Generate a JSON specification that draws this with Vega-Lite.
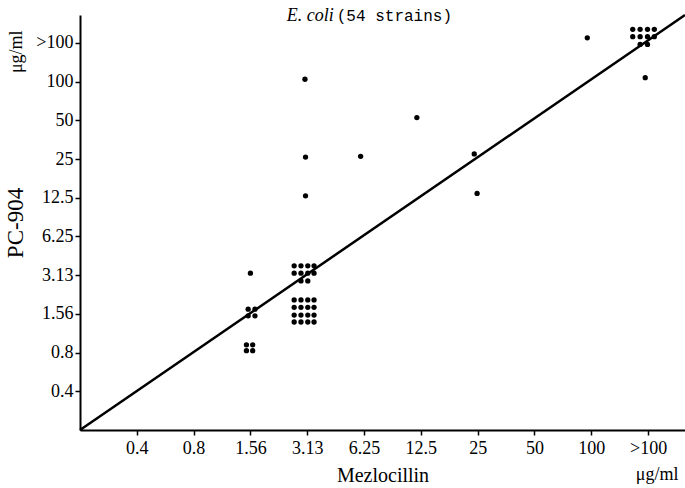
{
  "$schema": "https://vega.github.io/schema/vega-lite/v6.json",
  "width": 605,
  "height": 415,
  "autosize": {"type": "none"},
  "padding": {"left": 80, "top": 15, "right": 0, "bottom": 58},
  "background": "white",
  "config": {"view": {"stroke": null}, "font": "Liberation Serif"},
  "datasets": {
    "strains": [
      {"mez": 3.00, "pc": 4.05},
      {"mez": 2.96, "pc": 3.12}, {"mez": 3.08, "pc": 3.12}, {"mez": 2.96, "pc": 2.95}, {"mez": 3.08, "pc": 2.95},
      {"mez": 2.93, "pc": 2.20}, {"mez": 3.04, "pc": 2.20}, {"mez": 2.93, "pc": 2.05}, {"mez": 3.04, "pc": 2.05},
      {"mez": 3.77, "pc": 4.24}, {"mez": 3.89, "pc": 4.24}, {"mez": 4.01, "pc": 4.24}, {"mez": 4.12, "pc": 4.24},
      {"mez": 3.77, "pc": 4.05}, {"mez": 3.89, "pc": 4.05}, {"mez": 4.01, "pc": 4.05}, {"mez": 4.12, "pc": 4.05},
      {"mez": 3.89, "pc": 3.85}, {"mez": 4.01, "pc": 3.85},
      {"mez": 3.77, "pc": 3.36}, {"mez": 3.89, "pc": 3.36}, {"mez": 4.01, "pc": 3.36}, {"mez": 4.12, "pc": 3.36},
      {"mez": 3.77, "pc": 3.17}, {"mez": 3.89, "pc": 3.17}, {"mez": 4.01, "pc": 3.17}, {"mez": 4.12, "pc": 3.17},
      {"mez": 3.77, "pc": 2.97}, {"mez": 3.89, "pc": 2.97}, {"mez": 4.01, "pc": 2.97}, {"mez": 4.12, "pc": 2.97},
      {"mez": 3.77, "pc": 2.79}, {"mez": 3.89, "pc": 2.79}, {"mez": 4.01, "pc": 2.79}, {"mez": 4.12, "pc": 2.79},
      {"mez": 3.96, "pc": 9.06},
      {"mez": 3.97, "pc": 7.05},
      {"mez": 3.97, "pc": 6.05},
      {"mez": 4.94, "pc": 7.07},
      {"mez": 5.93, "pc": 8.07},
      {"mez": 6.94, "pc": 7.13},
      {"mez": 6.99, "pc": 6.11},
      {"mez": 8.93, "pc": 10.13},
      {"mez": 9.73, "pc": 10.35}, {"mez": 9.86, "pc": 10.35}, {"mez": 9.99, "pc": 10.35}, {"mez": 10.11, "pc": 10.35},
      {"mez": 9.73, "pc": 10.16}, {"mez": 9.86, "pc": 10.16}, {"mez": 9.99, "pc": 10.16}, {"mez": 10.11, "pc": 10.16},
      {"mez": 9.86, "pc": 9.96}, {"mez": 9.99, "pc": 9.96},
      {"mez": 9.95, "pc": 9.10}
    ],
    "diag": [{"mez": 0, "pc": 0}, {"mez": 10.65, "pc": 10.72}]
  },
  "layer": [
    {
      "data": {"name": "diag"},
      "mark": {"type": "line", "color": "black", "strokeWidth": 2.5},
      "encoding": {
        "x": {
          "field": "mez", "type": "quantitative",
          "scale": {"domain": [0, 10.65], "nice": false, "zero": false},
          "axis": {
            "values": [1, 2, 3, 4, 5, 6, 7, 8, 9, 10],
            "labelExpr": "['', '0.4', '0.8', '1.56', '3.13', '6.25', '12.5', '25', '50', '100', '>100'][datum.value]",
            "title": "Mezlocillin",
            "grid": false,
            "domainColor": "black", "domainWidth": 2,
            "tickColor": "black", "tickSize": 5, "tickWidth": 1.5,
            "labelFont": "Liberation Serif", "labelFontSize": 18, "labelColor": "black", "labelPadding": 4,
            "labelFlush": false,
            "titleFont": "Liberation Serif", "titleFontSize": 20, "titleFontWeight": "normal", "titleColor": "black",
            "titlePadding": 8
          }
        },
        "y": {
          "field": "pc", "type": "quantitative",
          "scale": {"domain": [0, 10.72], "nice": false, "zero": false},
          "axis": {
            "values": [1, 2, 3, 4, 5, 6, 7, 8, 9, 10],
            "labelExpr": "['', '0.4', '0.8', '1.56', '3.13', '6.25', '12.5', '25', '50', '100', '>100'][datum.value]",
            "title": "PC-904",
            "grid": false,
            "domainColor": "black", "domainWidth": 2,
            "tickColor": "black", "tickSize": 5, "tickWidth": 1.5,
            "labelFont": "Liberation Serif", "labelFontSize": 18, "labelColor": "black", "labelPadding": 2,
            "labelFlush": false,
            "titleFont": "Liberation Serif", "titleFontSize": 23, "titleFontWeight": "normal", "titleColor": "black",
            "titlePadding": 8
          }
        }
      }
    },
    {
      "data": {"name": "strains"},
      "mark": {"type": "circle", "color": "black", "opacity": 1, "size": 28},
      "encoding": {
        "x": {"field": "mez", "type": "quantitative"},
        "y": {"field": "pc", "type": "quantitative"}
      }
    },
    {
      "data": {"values": [{"label": "E. coli"}]},
      "mark": {"type": "text", "align": "left", "baseline": "middle", "fontStyle": "italic", "fontSize": 18, "font": "Liberation Serif", "color": "black"},
      "encoding": {
        "x": {"datum": 3.64, "type": "quantitative"},
        "y": {"datum": 10.7, "type": "quantitative"},
        "text": {"field": "label"}
      }
    },
    {
      "data": {"values": [{"label": "(54 strains)"}]},
      "mark": {"type": "text", "align": "left", "baseline": "middle", "fontSize": 16, "font": "Liberation Mono", "color": "black"},
      "encoding": {
        "x": {"datum": 4.52, "type": "quantitative"},
        "y": {"datum": 10.7, "type": "quantitative"},
        "text": {"field": "label"}
      }
    },
    {
      "data": {"values": [{"label": "μg/ml"}]},
      "mark": {"type": "text", "align": "center", "baseline": "middle", "fontSize": 18, "font": "Liberation Serif", "color": "black"},
      "encoding": {
        "x": {"datum": 10.16, "type": "quantitative"},
        "y": {"datum": -1.15, "type": "quantitative"},
        "text": {"field": "label"}
      }
    },
    {
      "data": {"values": [{"label": "μg/ml"}]},
      "mark": {"type": "text", "align": "center", "baseline": "middle", "angle": 270, "fontSize": 18, "font": "Liberation Serif", "color": "black"},
      "encoding": {
        "x": {"datum": -1.11, "type": "quantitative"},
        "y": {"datum": 9.77, "type": "quantitative"},
        "text": {"field": "label"}
      }
    }
  ]
}
